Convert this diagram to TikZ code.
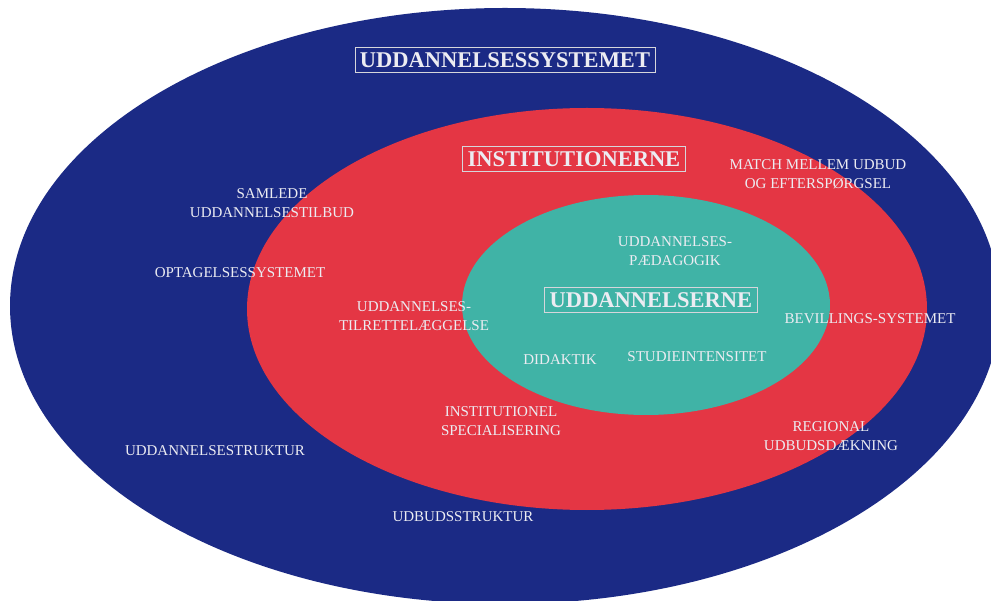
\documentclass[tikz,border=0pt]{standalone}
\usepackage{fontspec}
\setmainfont{Liberation Serif}
\definecolor{sysblue}{HTML}{1B2A85}
\definecolor{instred}{HTML}{E43644}
\definecolor{uddteal}{HTML}{40B3A6}
\definecolor{txtwhite}{HTML}{ECECF2}
\tikzset{
  lbl/.style={text=txtwhite,font=\fontsize{15}{19.5}\selectfont,align=center,inner sep=0pt},
  titlebox/.style={text=txtwhite,font=\fontsize{22.5}{26}\selectfont\bfseries,draw=txtwhite!80!gray,line width=0.8pt,inner xsep=5pt,inner ysep=5pt}
}

\begin{document}
\begin{tikzpicture}[x=1pt,y=-1pt]
			\useasboundingbox (0,0) rectangle (991,601);
			\fill[white] (0,0) rectangle (991,601);
			\fill[sysblue] (505,306) ellipse [x radius=495,y radius=298];
			\fill[instred] (587,309) ellipse [x radius=340,y radius=201];
			\fill[uddteal] (646,305) ellipse [x radius=184,y radius=110];
			% titles
			\node[titlebox] (system) at (505,60) {UDDANNELSESSYSTEMET};
			\node[titlebox] (inst) at (574,159) {INSTITUTIONERNE};
			\node[titlebox] (udd) at (651,300) {UDDANNELSERNE};
			% outer ring
			\node[lbl] (samlede) at (272,203) {SAMLEDE\\UDDANNELSESTILBUD};
			\node[lbl] (optag) at (240,273) {OPTAGELSESSYSTEMET};
			\node[lbl] (struktur) at (215,451) {UDDANNELSESTRUKTUR};
			\node[lbl] (udbud) at (463,517) {UDBUDSSTRUKTUR};
			\node[lbl] (match) at (818,174) {MATCH MELLEM UDBUD\\OG EFTERSPØRGSEL};
			\node[lbl] (bevil) at (870,319) {BEVILLINGS-SYSTEMET};
			\node[lbl] (regional) at (831,436) {REGIONAL\\UDBUDSDÆKNING};
			% middle ring
			\node[lbl] (tilret) at (414,316) {UDDANNELSES-\\TILRETTELÆGGELSE};
			\node[lbl] (special) at (501,421) {INSTITUTIONEL\\SPECIALISERING};
			% inner
			\node[lbl] (paed) at (675,251) {UDDANNELSES-\\PÆDAGOGIK};
			\node[lbl] (didak) at (560,360) {DIDAKTIK};
			\node[lbl] (studie) at (697,357) {STUDIEINTENSITET};
		\end{tikzpicture}
\end{document}
